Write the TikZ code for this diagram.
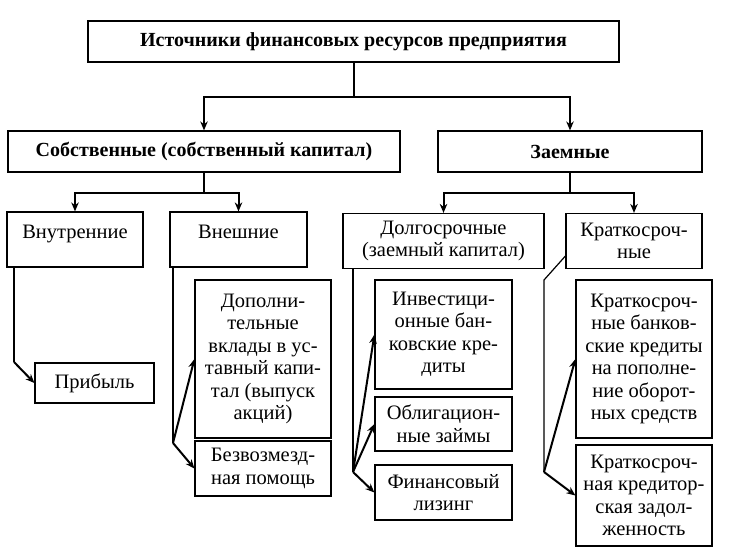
\documentclass[tikz,border=0pt]{standalone}
\usepackage{fontspec}
\setmainfont{Liberation Serif}
\usetikzlibrary{arrows.meta}

\begin{document}
\begin{tikzpicture}[
                x = 1pt, y = -1pt, % pixel-like grid, y grows down
                > = {Stealth[length=9pt, width=7.5pt]}, % arrow head style
                font = \fontsize{20.5}{22.5}\selectfont,
                semithick % line style
            ]

            \tikzstyle{box}=[draw = black, line width = 1.2pt, align = center,
            inner sep = 0pt]
            \tikzstyle{head}=[box, minimum height = 41,
            font = \bfseries\fontsize{20}{24}\selectfont]
            \tikzstyle{single}=[box, text height = 26pt, text depth = 29pt]
            \tikzstyle{link}=[line width = 1.2pt]
            \tikzstyle{arr}=[->, line width = 2pt]

            \useasboundingbox (0,0) rectangle (738,554);

            % levels 1 and 2
            \node (src) [head, minimum width = 531] at (353.5,41.5)
            {Источники финансовых ресурсов предприятия};
            \node (own) [head, minimum width = 392] at (204,151.5)
            {Собственные (собственный капитал)};
            \node (borr) [head, minimum width = 264] at (570,151.5) {Заемные};

            % level 3
            \node (intern) [single, minimum width = 136] at (75,239.5) {Внутренние};
            \node (extern) [single, minimum width = 137] at (238.5,239.5) {Внешние};
            \node (long) [box, minimum width = 201, minimum height = 55]
            at (443.5,241) {Долгосрочные\\(заемный капитал)};
            \node (short) [box, minimum width = 136, minimum height = 55]
            at (634,241) {Краткосроч-\\ные};

            % level 4
            \node (prib) [box, minimum width = 119, minimum height = 40]
            at (94.5,383) {Прибыль};
            \node (dop) [box, minimum width = 136, minimum height = 158]
            at (263,359) {Дополни-\\тельные\\вклады в ус-\\тавный капи-\\тал (выпуск\\акций)};
            \node (bezv) [box, minimum width = 136, minimum height = 55]
            at (263,468.5) {Безвозмезд-\\ная помощь};
            \node (inv) [box, minimum width = 137, minimum height = 109]
            at (443.5,334.5) {Инвестици-\\онные бан-\\ковские кре-\\диты};
            \node (obl) [box, minimum width = 137, minimum height = 54]
            at (443.5,424) {Облигацион-\\ные займы};
            \node (fin) [box, minimum width = 137, minimum height = 55]
            at (443.5,492.5) {Финансовый\\лизинг};
            \node (kbank) [box, minimum width = 136, minimum height = 158]
            at (644,359) {Краткосроч-\\ные банков-\\ские кредиты\\на пополне-\\ние оборот-\\ных средств};
            \node (kcred) [box, minimum width = 136, minimum height = 101]
            at (644,495.5) {Краткосроч-\\ная кредитор-\\ская задол-\\женность};

            % joints
            \coordinate (intj) at (14,362);
            \coordinate (extj) at (173,443);
            \coordinate (longj) at (353,472);
            \coordinate (shortk) at (544,280);
            \coordinate (shortj) at (544,472);

            \draw[line width = 2pt] (src.south) -- ++(0,34.5) coordinate (srcj);
            \draw[arr] (srcj) -| (own.north); \draw[arr] (srcj) -| (borr.north);
            \draw[line width = 2pt] (own.south) -- ++(0,20) coordinate (ownj);
            \draw[arr] (ownj) -| (intern.north); \draw[arr] (ownj) -| (extern.north);
            \draw[line width = 2pt] (borr.south) -- ++(0,20) coordinate (borrj);
            \draw[arr] (borrj) -| (long.north); \draw[arr] (borrj) -| (short.north);

            \draw[link] (intern.south -| intj) -- (intj);
            \draw[arr] (intj) -- (prib.west);
            \draw[link] (extern.south -| extj) -- (extj);
            \draw[arr] (extj) -- (dop.west); \draw[arr] (extj) -- (bezv.west);
            \draw[link] (long.south -| longj) -- (longj);
            \draw[arr] (longj) -- (inv.west); \draw[arr] (longj) -- (obl.west);
            \draw[arr] (longj) -- (fin.west);
            \draw[link] ([yshift=-15pt]short.west) -- (shortk) -- (shortj);
            \draw[arr] (shortj) -- (kbank.west); \draw[arr] (shortj) -- (kcred.west);

        \end{tikzpicture}
\end{document}
